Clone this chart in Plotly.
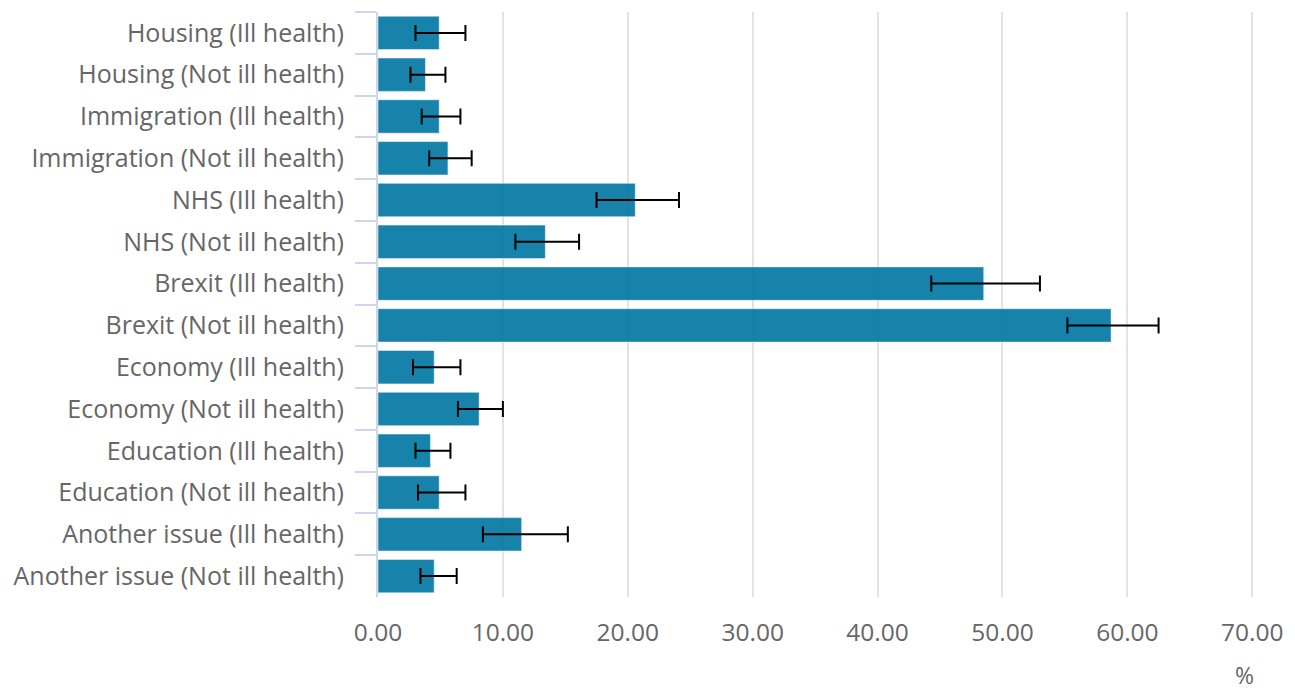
import plotly.graph_objects as go

categories = [
    "Housing (Ill health)", "Housing (Not ill health)",
    "Immigration (Ill health)", "Immigration (Not ill health)",
    "NHS (Ill health)", "NHS (Not ill health)",
    "Brexit (Ill health)", "Brexit (Not ill health)",
    "Economy (Ill health)", "Economy (Not ill health)",
    "Education (Ill health)", "Education (Not ill health)",
    "Another issue (Ill health)", "Another issue (Not ill health)",
]
values = [4.9, 3.8, 4.9, 5.6, 20.6, 13.4, 48.5, 58.7, 4.5, 8.1, 4.2, 4.9, 11.5, 4.5]
lower = [3.0, 2.6, 3.5, 4.1, 17.5, 11.0, 44.3, 55.2, 2.8, 6.4, 3.0, 3.2, 8.4, 3.4]
upper = [7.0, 5.4, 6.6, 7.5, 24.1, 16.1, 53.0, 62.5, 6.6, 10.0, 5.8, 7.0, 15.2, 6.3]

err_plus = [u - v for u, v in zip(upper, values)]
err_minus = [v - l for v, l in zip(values, lower)]

font_family = "Open Sans"
grey = "#666666"

fig = go.Figure()
fig.add_trace(go.Bar(
    y=categories, x=values, orientation="h",
    marker=dict(color="#0076a1", opacity=0.9,
                line=dict(color="rgba(255,255,255,0.5)", width=1)),
    error_x=dict(type="data", symmetric=False, array=err_plus, arrayminus=err_minus,
                 color="black", thickness=2, width=8),
    hoverinfo="x+y",
))

fig.update_layout(
    width=1295, height=690,
    margin=dict(l=378, r=34, t=12, b=93),
    plot_bgcolor="white", paper_bgcolor="white",
    bargap=0.2,
    showlegend=False,
    font=dict(family=font_family, size=25, color=grey),
    xaxis=dict(range=[0, 70.3], tickvals=[0, 10, 20, 30, 40, 50, 60, 70],
               tickformat=".2f", showgrid=True, gridcolor="#e3e3e3", gridwidth=2,
               zeroline=False, showline=False, ticks="", ticklabelstandoff=18,
               tickfont=dict(size=24.5, color=grey)),
    yaxis=dict(autorange="reversed", showline=True, linecolor="#cdd6ea", linewidth=2,
               ticks="outside", tickson="boundaries", ticklen=21, tickcolor="#cdd6ea",
               tickwidth=2, showgrid=False, ticklabelstandoff=27,
               tickfont=dict(size=25, color=grey)),
    annotations=[dict(text="%", xref="x", x=69.4, yref="paper", y=0,
                      yshift=-78, yanchor="middle", xanchor="center", showarrow=False,
                      font=dict(size=23, color=grey))],
)

fig.write_html("out.html")
